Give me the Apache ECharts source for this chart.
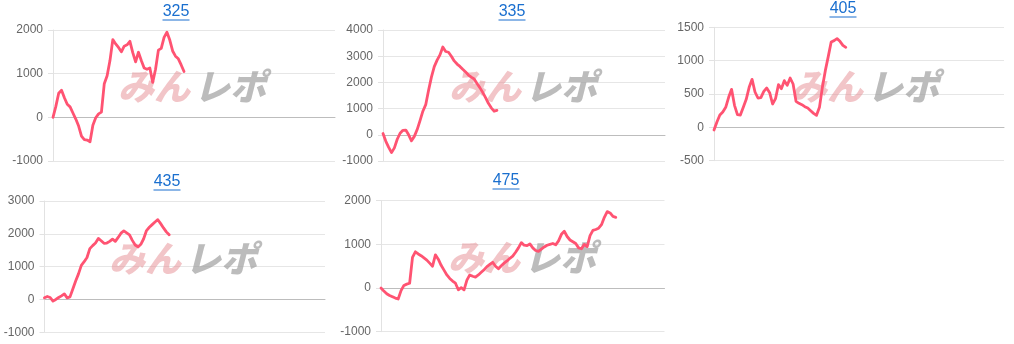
<!DOCTYPE html>
<html>
<head>
<meta charset="utf-8">
<script src="https://cdn.jsdelivr.net/npm/echarts@6/dist/echarts.min.js"></script>
<style>
html,body{margin:0;padding:0;background:#fff;}
#main{width:1014px;height:344px;}
</style>
</head>
<body>
<div id="main"></div>
<script>
// ---- data ----
var titles = ['325', '335', '405', '435', '475'];
var slotCount = 100;
var categories = [];
for (var k = 1; k <= slotCount; k++) categories.push(String(k));

var series325 = [0, 250, 550, 620, 450, 300, 240, 100, -40, -200, -430, -510, -520, -560, -180, -10, 80, 120, 770, 950,
  1300, 1780, 1680, 1600, 1500, 1630, 1660, 1740, 1480, 1270, 1490, 1300, 1130, 1100, 1130, 800, 1100, 1540, 1580, 1830,
  1950, 1770, 1520, 1400, 1340, 1200, 1050];
var series335 = [50, -250, -480, -680, -500, -170, 60, 170, 180, 0, -230, -60, 200, 540, 900, 1150, 1700, 2200, 2600, 2850,
  3050, 3350, 3180, 3150, 3000, 2820, 2700, 2610, 2500, 2400, 2280, 2200, 2130, 1960, 1800, 1620, 1420, 1200, 1030, 900, 930];
var series405 = [-40, 80, 185, 230, 300, 450, 570, 330, 190, 185, 300, 420, 600, 720, 530, 440, 445, 540, 590, 520,
  350, 430, 640, 580, 700, 630, 740, 650, 390, 360, 340, 310, 290, 250, 210, 180, 300, 600, 850, 1060,
  1280, 1300, 1330, 1290, 1230, 1200];
var series435 = [50, 90, 60, -50, 0, 60, 110, 170, 50, 80, 320, 560, 780, 1040, 1150, 1280, 1550, 1640, 1720, 1860,
  1790, 1710, 1720, 1770, 1840, 1770, 1890, 2020, 2090, 2030, 1970, 1800, 1660, 1600, 1680, 1850, 2100, 2200, 2280, 2360,
  2430, 2310, 2180, 2060, 1970];
var series475 = [0, -70, -130, -170, -200, -230, -250, -60, 60, 90, 110, 700, 830, 780, 740, 690, 640, 570, 500, 760,
  660, 520, 410, 300, 220, 160, 110, -40, 10, -40, 180, 300, 270, 250, 300, 360, 420, 490, 540, 590,
  500, 440, 510, 570, 620, 680, 730, 820, 920, 1040, 980, 970, 1010, 920, 860, 840, 890, 940, 980, 1000,
  1020, 990, 1080, 1230, 1300, 1180, 1100, 1060, 1020, 920, 900, 1000, 950, 1200, 1320, 1340, 1370, 1450, 1620, 1750,
  1720, 1640, 1620];
var yMins = [-1000, -1000, -500, -1000, -1000];
var yMaxs = [2000, 4000, 1500, 3000, 2000];
var yIntervals = [1000, 1000, 500, 1000, 1000];
var allSeries = [series325, series335, series405, series435, series475];

// ---- layout ----
var grids = [
  {left: 53, top: 30, width: 282, height: 131},
  {left: 383, top: 30, width: 282, height: 131},
  {left: 714, top: 27.3, width: 290, height: 133.4},
  {left: 44.5, top: 201, width: 280.5, height: 131.3},
  {left: 381, top: 200.7, width: 283.5, height: 131}
];
var titlePos = [[176, 12], [512, 12], [843, 9], [167, 182], [506, 181]];
var markPos = [[192, 86], [523, 86], [865, 86], [183, 258], [522, 257]];

var chart = echarts.init(document.getElementById('main'), null, {renderer: 'canvas'});
var FONT = '"Liberation Sans", Arial, sans-serif';
var xAxes = [], yAxes = [], seriesOpt = [], graphics = [];

for (var i = 0; i < 5; i++) {
  xAxes.push({
    type: 'category', gridIndex: i, data: categories, boundaryGap: false,
    axisLine: {show: true, onZero: true, lineStyle: {color: '#bdbdbd', width: 1}},
    axisTick: {show: false}, axisLabel: {show: false}, splitLine: {show: false}
  });
  yAxes.push({
    type: 'value', gridIndex: i, min: yMins[i], max: yMaxs[i], interval: yIntervals[i],
    axisLine: {show: true, lineStyle: {color: '#e2e2e2'}},
    axisTick: {show: true, length: 5, lineStyle: {color: '#e2e2e2'}},
    splitLine: {show: true, lineStyle: {color: '#e6e6e6'}},
    axisLabel: {color: '#666', fontSize: 12, fontFamily: FONT, margin: 10,
      formatter: function (v) { return String(v); }}
  });
  seriesOpt.push({
    type: 'line', xAxisIndex: i, yAxisIndex: i, data: allSeries[i],
    showSymbol: false, symbol: 'none', z: 5,
    lineStyle: {color: '#ff5372', width: 2.8, join: 'round', cap: 'round'},
    emphasis: {disabled: true}
  });
  var tp = titlePos[i];
  graphics.push({
    type: 'text', x: tp[0], y: tp[1], z: 10,
    style: {text: titles[i], fill: '#1a6fcf', font: '16px ' + FONT, textAlign: 'center', textVerticalAlign: 'middle'}
  });
  graphics.push({
    type: 'line', z: 10,
    shape: {x1: tp[0] - 13.5, y1: tp[1] + 8, x2: tp[0] + 13.5, y2: tp[1] + 8},
    style: {stroke: '#1a6fcf', lineWidth: 1}
  });
  var mp = markPos[i];
  graphics.push({
    type: 'text', x: mp[0] - 2, y: mp[1], z: 1,
    style: {text: 'みん', fill: 'rgba(230,140,145,0.5)', font: 'italic 900 36px "Noto Sans CJK JP"',
      textAlign: 'right', textVerticalAlign: 'middle'}
  });
  graphics.push({
    type: 'text', x: mp[0] + 2, y: mp[1], z: 1,
    style: {text: 'レポ', fill: 'rgba(160,160,160,0.7)', font: 'italic 900 36px "Noto Sans CJK JP"',
      textAlign: 'left', textVerticalAlign: 'middle'}
  });
}

chart.setOption({
  animation: false,
  backgroundColor: '#ffffff',
  grid: grids,
  xAxis: xAxes,
  yAxis: yAxes,
  series: seriesOpt,
  graphic: graphics
});
</script>
</body>
</html>
